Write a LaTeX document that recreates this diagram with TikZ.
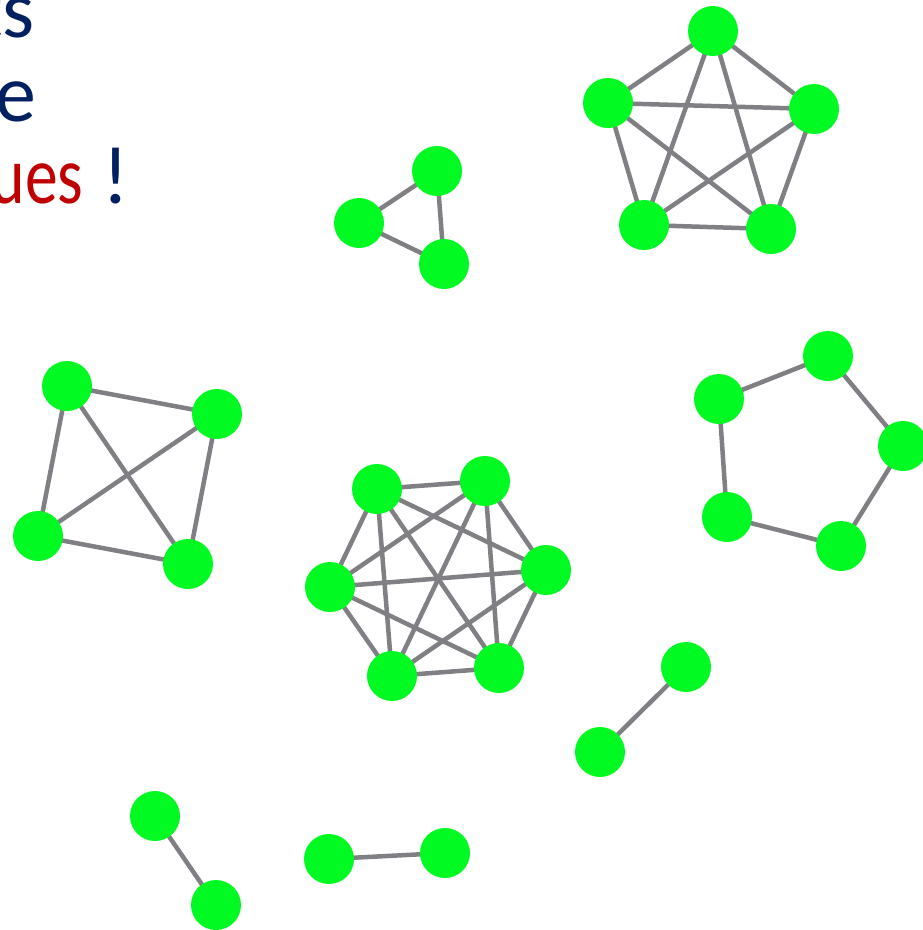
\documentclass[tikz,border=0pt]{standalone}
\usepackage{graphicx}
\usepackage{fontspec}
\setmainfont{Carlito}
\pgfdeclarelayer{edgelayer}
\pgfsetlayers{edgelayer,main}
\definecolor{vgreen}{RGB}{2,250,35}
\definecolor{egray}{RGB}{128,128,132}
\definecolor{tblue}{RGB}{0,32,96}
\definecolor{tred}{RGB}{192,0,0}
\tikzset{
  vert/.style={circle,fill=vgreen,draw=none,minimum size=50pt,inner sep=0pt},
  edge/.style={draw=egray,line width=4.5pt},
  txt/.style={anchor=base east,inner sep=0pt,font=\fontsize{82}{82}\selectfont}
}
\begin{document}
\begin{tikzpicture}[x=1pt,y=-1pt]
\useasboundingbox (0,0) rectangle (923,930);
\clip (0,0) rectangle (923,930);
% text fragments (cut off at the left edge, as in the reference)
\node[txt,text=tblue] (t1) at (35,37) {ts};
\node[txt,text=tblue] (t2) at (36,121) {e};
\node[txt] (t3) at (129,203) {\textcolor{tred}{\scalebox{0.8}[1]{ues}}\ \textcolor{tblue}{!}};
% K5
\node[vert] (a1) at (713,31) {};
\node[vert] (a2) at (608,103) {};
\node[vert] (a3) at (814,109) {};
\node[vert] (a4) at (644,225) {};
\node[vert] (a5) at (771,229) {};
% C5
\node[vert] (c1) at (828,356) {};
\node[vert] (c2) at (719,399) {};
\node[vert] (c3) at (903,446) {};
\node[vert] (c4) at (727,517) {};
\node[vert] (c5) at (841,546) {};
% triangle
\node[vert] (b1) at (437,171) {};
\node[vert] (b2) at (359,223) {};
\node[vert] (b3) at (444,264) {};
% K4
\node[vert] (d1) at (67,386) {};
\node[vert] (d2) at (217,414) {};
\node[vert] (d3) at (38,536) {};
\node[vert] (d4) at (188,564) {};
% K6
\node[vert] (e1) at (377,489) {};
\node[vert] (e2) at (485,481) {};
\node[vert] (e3) at (330,587) {};
\node[vert] (e4) at (546,570) {};
\node[vert] (e5) at (392,676) {};
\node[vert] (e6) at (499,668) {};
% pairs
\node[vert] (f1) at (686,667) {};
\node[vert] (f2) at (600,752) {};
\node[vert] (g1) at (155,816) {};
\node[vert] (g2) at (216,905) {};
\node[vert] (h1) at (329,859) {};
\node[vert] (h2) at (445,853) {};
% edges behind the vertices
\begin{pgfonlayer}{edgelayer}
\foreach \u/\v in {a1/a2,a1/a3,a1/a4,a1/a5,a2/a3,a2/a4,a2/a5,a3/a4,a3/a5,a4/a5,
  c1/c2,c1/c3,c3/c5,c5/c4,c4/c2,
  b1/b2,b1/b3,b2/b3,
  d1/d2,d1/d3,d1/d4,d2/d3,d2/d4,d3/d4,
  e1/e2,e1/e3,e1/e4,e1/e5,e1/e6,e2/e3,e2/e4,e2/e5,e2/e6,e3/e4,e3/e5,e3/e6,e4/e5,e4/e6,e5/e6,
  f1/f2,g1/g2,h1/h2}
  \draw[edge] (\u.center) -- (\v.center);
\end{pgfonlayer}
\end{tikzpicture}
\end{document}
